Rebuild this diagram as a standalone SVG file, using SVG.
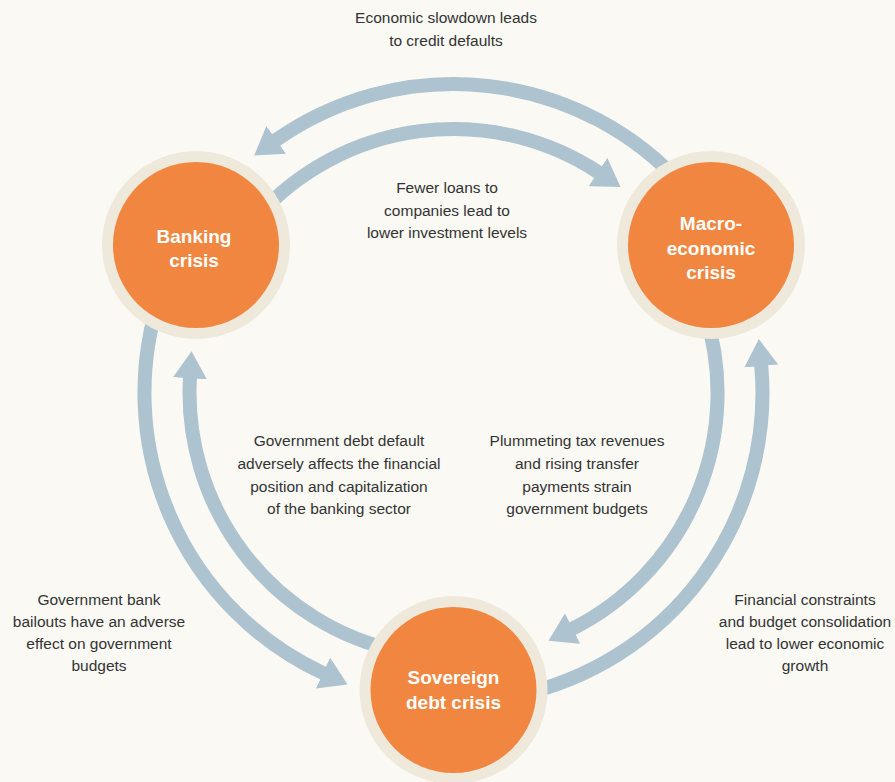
<svg xmlns="http://www.w3.org/2000/svg" width="895" height="782" viewBox="0 0 895 782">
<style>
.bg{fill:#faf9f4}
.arc{fill:none;stroke:#adc3cf;stroke-width:14}
.ring{fill:#efe9dc}
.core{fill:#f08640}
.node{font-family:"Liberation Sans",Arial,sans-serif;font-weight:bold;font-size:19px;fill:#ffffff;text-anchor:middle}
.lbl{font-family:"Liberation Sans",Arial,sans-serif;font-size:15.5px;fill:#333333;text-anchor:middle}
</style>
<defs>
<marker id="ah" markerUnits="userSpaceOnUse" markerWidth="27" markerHeight="34" viewBox="0 0 27 34" refX="1" refY="17" orient="auto">
<path d="M0,0 L27,17 L0,34 Z" fill="#adc3cf"/>
</marker>
</defs>
<rect class="bg" x="0" y="0" width="895" height="782"/>
<g id="connectors">
<path class="arc" d="M683.1,186.2 A309,309 0 0 0 275.4,140.5" marker-end="url(#ah)"/>
<path class="arc" d="M159.6,297.5 A309,309 0 0 0 323.9,673.5" marker-end="url(#ah)"/>
<path class="arc" d="M517.7,695.2 A309,309 0 0 0 761.2,365.0" marker-end="url(#ah)"/>
<path class="arc" d="M257.3,216.4 A264,264 0 0 1 598.8,172.6" marker-end="url(#ah)"/>
<path class="arc" d="M704.6,311.4 A264,264 0 0 1 571.7,629.1" marker-end="url(#ah)"/>
<path class="arc" d="M398.6,651.2 A264,264 0 0 1 190.0,377.3" marker-end="url(#ah)"/>
</g>
<g id="banking">
<circle class="ring" cx="196" cy="245" r="94"/>
<circle class="core" cx="196" cy="245" r="83"/>
<text class="node" x="194" y="243">Banking</text>
<text class="node" x="194" y="267">crisis</text>
</g>
<g id="macro">
<circle class="ring" cx="711" cy="245" r="94"/>
<circle class="core" cx="711" cy="245" r="83"/>
<text class="node" x="711" y="230">Macro-</text>
<text class="node" x="711" y="255">economic</text>
<text class="node" x="711" y="279">crisis</text>
</g>
<g id="sovereign">
<circle class="ring" cx="453.5" cy="690" r="94"/>
<circle class="core" cx="453.5" cy="690" r="83"/>
<text class="node" x="453.5" y="684">Sovereign</text>
<text class="node" x="453.5" y="709">debt crisis</text>
</g>
<g id="labels">
<text class="lbl" x="446" y="23">Economic slowdown leads</text>
<text class="lbl" x="446" y="46">to credit defaults</text>
<text class="lbl" x="447" y="193">Fewer loans to</text>
<text class="lbl" x="447" y="216">companies lead to</text>
<text class="lbl" x="447" y="238">lower investment levels</text>
<text class="lbl" x="339" y="446">Government debt default</text>
<text class="lbl" x="339" y="469">adversely affects the financial</text>
<text class="lbl" x="339" y="492">position and capitalization</text>
<text class="lbl" x="339" y="514">of the banking sector</text>
<text class="lbl" x="577" y="446">Plummeting tax revenues</text>
<text class="lbl" x="577" y="469">and rising transfer</text>
<text class="lbl" x="577" y="492">payments strain</text>
<text class="lbl" x="577" y="514">government budgets</text>
<text class="lbl" x="99" y="605">Government bank</text>
<text class="lbl" x="99" y="627">bailouts have an adverse</text>
<text class="lbl" x="99" y="649">effect on government</text>
<text class="lbl" x="99" y="671">budgets</text>
<text class="lbl" x="805" y="605">Financial constraints</text>
<text class="lbl" x="805" y="627">and budget consolidation</text>
<text class="lbl" x="805" y="649">lead to lower economic</text>
<text class="lbl" x="805" y="671">growth</text>
</g>
</svg>
